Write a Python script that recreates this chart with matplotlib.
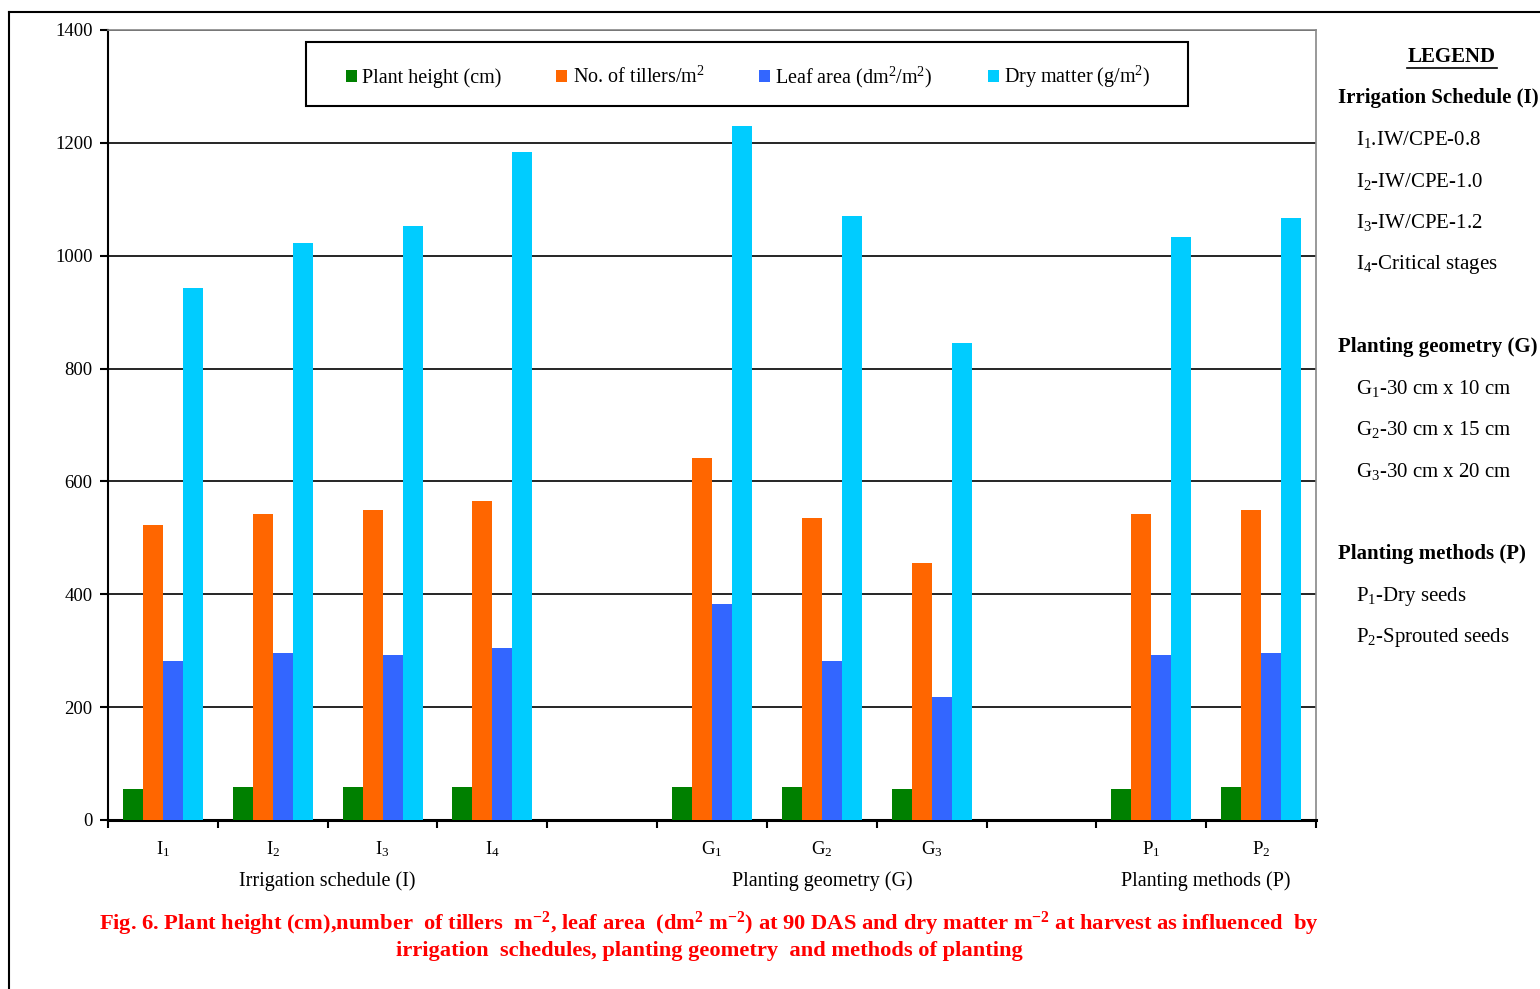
#!/usr/bin/env python3

import matplotlib
matplotlib.use("Agg")
import matplotlib.pyplot as plt
from matplotlib.lines import Line2D
from matplotlib.patches import Rectangle

plt.rcParams['font.family'] = ['Liberation Serif', 'DejaVu Serif']
plt.rcParams['mathtext.fontset'] = 'custom'
plt.rcParams['mathtext.rm'] = 'Liberation Serif'
plt.rcParams['mathtext.it'] = 'Liberation Serif:italic'
plt.rcParams['mathtext.bf'] = 'Liberation Serif:bold'
plt.rcParams['mathtext.default'] = 'rm'

# treatment groups, one empty slot is left between groups
GROUP_NAMES = ["Irrigation schedule (I)", "Planting geometry (G)", "Planting methods (P)"]
GROUP_MEMBERS = [
    ["I$_1$", "I$_2$", "I$_3$", "I$_4$"],
    ["G$_1$", "G$_2$", "G$_3$"],
    ["P$_1$", "P$_2$"],
]

SERIES_NAMES = ["Plant height (cm)", "No. of tillers/m$^2$",
                "Leaf area (dm$^2$/m$^2$)", "Dry matter (g/m$^2$)"]
SERIES_COLORS = ["#008000", "#FF6600", "#3366FF", "#00CCFF"]

plant_height = [55, 58, 58, 58, 58, 58, 55, 55, 58]
tillers = [523, 542, 549, 565, 641, 535, 455, 542, 549]
leaf_area = [282, 296, 292, 305, 383, 282, 218, 292, 296]
dry_matter = [943, 1022, 1053, 1184, 1230, 1070, 845, 1033, 1067]

Y_TICKS = [0, 200, 400, 600, 800, 1000, 1200, 1400]

LEGEND_BLOCKS = [
    ("Irrigation Schedule (I)", ["I$_1$.IW/CPE-0.8", "I$_2$-IW/CPE-1.0",
                                 "I$_3$-IW/CPE-1.2", "I$_4$-Critical stages"]),
    ("Planting geometry (G)", ["G$_1$-30 cm x 10 cm", "G$_2$-30 cm x 15 cm",
                               "G$_3$-30 cm x 20 cm"]),
    ("Planting methods (P)", ["P$_1$-Dry seeds", "P$_2$-Sprouted seeds"]),
]

CAPTION = ("Fig. 6. Plant height (cm),number  of tillers  m$^{\\mathbf{-2}}$, leaf area  "
           "(dm$^{\\mathbf{2}}$ m$^{\\mathbf{-2}}$) at 90 DAS and dry matter m$^{\\mathbf{-2}}$ "
           "at harvest as influenced  by\nirrigation  schedules, planting geometry  "
           "and methods of planting")

W, H = 1540, 989


def slot_positions():
    positions, labels, group_centers = [], [], []
    slot = 0
    for members in GROUP_MEMBERS:
        start = slot
        for m in members:
            positions.append(slot)
            labels.append(m)
            slot += 1
        group_centers.append((start + slot - 1) / 2)
        slot += 1
    return positions, labels, group_centers, slot - 1


def main():
    fig = plt.figure(figsize=(W / 100, H / 100), dpi=100)
    ax = fig.add_axes([108 / W, (H - 820) / H, (1316 - 108) / W, (820 - 30) / H])

    positions, labels, group_centers, n_slots = slot_positions()
    series = [plant_height, tillers, leaf_area, dry_matter]
    bw = 0.182
    for i, (vals, name, col) in enumerate(zip(series, SERIES_NAMES, SERIES_COLORS)):
        xs = [p + (i - 1.5) * bw for p in positions]
        ax.bar(xs, vals, width=bw, color=col, label=name, zorder=3, linewidth=0)

    ax.set_xlim(-0.5, n_slots - 0.5)
    ax.set_ylim(0, 1400)
    ax.set_yticks(Y_TICKS)
    ax.set_yticklabels([str(t) for t in Y_TICKS], fontsize=13.5)
    ax.yaxis.grid(True, color="black", linewidth=1.2, zorder=0)
    ax.set_axisbelow(True)

    ax.set_xticks([i - 0.5 for i in range(n_slots + 1)])
    ax.set_xticklabels([])
    ax.set_xticks(positions, minor=True)
    ax.set_xticklabels(labels, minor=True, fontsize=13.5)
    ax.tick_params(axis='x', which='minor', length=0, pad=14)
    ax.tick_params(axis='x', which='major', length=6, width=1.5, direction='out')
    ax.tick_params(axis='y', length=6, width=1.5, direction='out', pad=5)

    for side in ("top", "right"):
        ax.spines[side].set_color("#888888")
        ax.spines[side].set_linewidth(1.2)
    ax.spines["left"].set_linewidth(1.5)
    ax.spines["bottom"].set_linewidth(2.2)

    for name, cx in zip(GROUP_NAMES, group_centers):
        ax.text(cx, -0.077, name, transform=ax.get_xaxis_transform(),
                ha="center", va="center", fontsize=14.5)

    # series legend: entries spread inside a plain black box
    box_x0, box_x1 = (306 - 108) / 1208, (1188 - 108) / 1208
    box_y0, box_y1 = (820 - 106) / 790, (820 - 42) / 790
    ax.add_patch(Rectangle((box_x0, box_y0), box_x1 - box_x0, box_y1 - box_y0,
                           transform=ax.transAxes, fill=True, facecolor="white",
                           edgecolor="black", linewidth=1.5, zorder=5))
    in_x0, in_x1 = (346 - 108) / 1208, (1150 - 108) / 1208
    leg = ax.legend(loc="center", ncol=4, mode="expand",
                    bbox_to_anchor=(in_x0, box_y0 - 0.004, in_x1 - in_x0, box_y1 - box_y0),
                    fontsize=14.5, frameon=False, handlelength=0.55, handleheight=0.55,
                    handletextpad=0.25, borderpad=0, borderaxespad=0)
    leg.set_zorder(6)

    # side legend with the treatment codes
    fig.text(1452 / W, 1 - 57 / H, "LEGEND", ha="center", va="center",
             fontsize=15, fontweight="bold")
    fig.add_artist(Line2D([1407 / W, 1497 / W], [1 - 68 / H, 1 - 68 / H],
                          color="black", linewidth=1.2))
    y = 98
    for heading, items in LEGEND_BLOCKS:
        fig.text(1338 / W, 1 - y / H, heading, ha="left", va="center",
                 fontsize=15, fontweight="bold")
        for item in items:
            y += 41.5
            fig.text(1356 / W, 1 - y / H, item, ha="left", va="center", fontsize=15)
        y += 83

    fig.text(709 / W, 1 - 935 / H, CAPTION, ha="center", va="center",
             fontsize=16.2, fontweight="bold", color="#FF0000", linespacing=1.2)

    # page frame
    fig.add_artist(Line2D([9 / W, 1.0], [1 - 12 / H, 1 - 12 / H], color="black", linewidth=1.5))
    fig.add_artist(Line2D([9 / W, 9 / W], [0, 1 - 12 / H], color="black", linewidth=1.5))

    fig.savefig("out.png", dpi=100)
    plt.close(fig)


if __name__ == "__main__":
    main()
